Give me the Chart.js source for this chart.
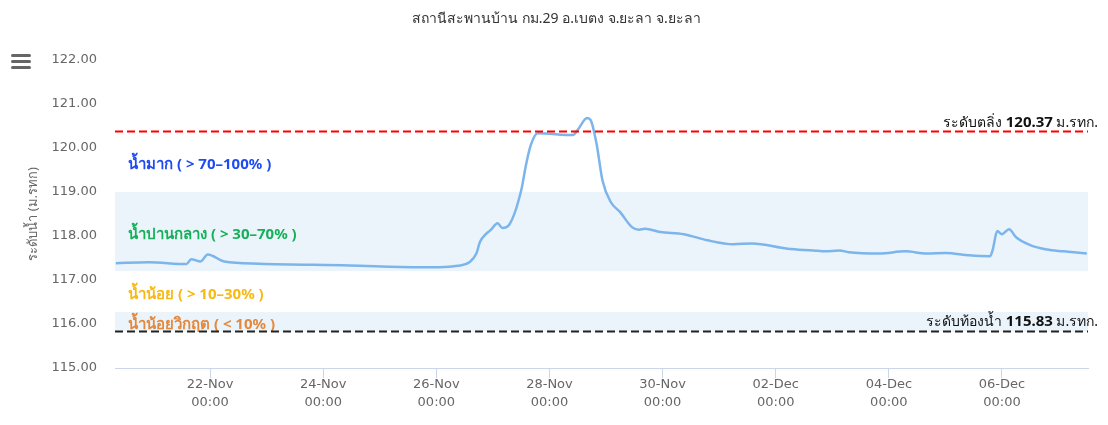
<!DOCTYPE html>
<html lang="th">
<head>
<meta charset="UTF-8">
<title>ระดับน้ำ สถานีสะพานบ้าน</title>
<style>
  body { margin: 0; background: #fff; overflow: hidden; }
  .wrap { position: relative; width: 1108px; height: 425px; }
  #chart { position: absolute; left: 0; top: 0; }
  .menu { position: absolute; left: 11px; top: 54px; width: 20px; }
  .menu span { display: block; height: 3px; margin-bottom: 3px; background: #666; border-radius: 2px; }
</style>
</head>
<body>
<div class="wrap">
  <canvas id="chart" width="1108" height="425"></canvas>
  <div class="menu"><span></span><span></span><span></span></div>
</div>

<script src="https://cdn.jsdelivr.net/npm/chart.js"></script>
<script>
// ข้อมูลระดับน้ำ (ม.รทก.)
const times = [
  '2024-11-20 08:00', '2024-11-20 22:00', '2024-11-21 14:00', '2024-11-21 16:00', '2024-11-21 20:00',
  '2024-11-21 23:00', '2024-11-22 06:00', '2024-11-22 21:00', '2024-11-24 11:00', '2024-11-25 17:00',
  '2024-11-26 01:00', '2024-11-26 09:00', '2024-11-26 14:00', '2024-11-26 17:00', '2024-11-26 18:30',
  '2024-11-26 21:00', '2024-11-26 23:00', '2024-11-27 02:00', '2024-11-27 04:00', '2024-11-27 07:00',
  '2024-11-27 12:00', '2024-11-27 14:00', '2024-11-27 16:00', '2024-11-27 19:00', '2024-11-28 10:00',
  '2024-11-28 12:00', '2024-11-28 16:00', '2024-11-28 17:30', '2024-11-28 20:00', '2024-11-28 22:30',
  '2024-11-29 02:00', '2024-11-29 06:00', '2024-11-29 11:00', '2024-11-29 14:00', '2024-11-29 16:30',
  '2024-11-29 23:00', '2024-11-30 09:00', '2024-11-30 19:00', '2024-12-01 06:00', '2024-12-01 14:00',
  '2024-12-02 05:00', '2024-12-02 16:00', '2024-12-02 21:00', '2024-12-03 03:00', '2024-12-03 07:00',
  '2024-12-03 20:00', '2024-12-04 07:00', '2024-12-04 16:00', '2024-12-05 00:00', '2024-12-05 10:00',
  '2024-12-05 19:00', '2024-12-05 20:00', '2024-12-05 22:00', '2024-12-06 00:00', '2024-12-06 03:00',
  '2024-12-06 06:00', '2024-12-06 12:00', '2024-12-06 19:00', '2024-12-07 02:00', '2024-12-07 12:00'
];
const levels = [
  117.38, 117.40, 117.36, 117.47, 117.42,
  117.58, 117.42, 117.37, 117.33, 117.29,
  117.29, 117.32, 117.40, 117.60, 117.86,
  118.04, 118.13, 118.29, 118.18, 118.26,
  119.03, 119.60, 120.05, 120.33, 120.29,
  120.41, 120.68, 120.63, 120.09, 119.26,
  118.77, 118.54, 118.20, 118.14, 118.16,
  118.09, 118.04, 117.90, 117.81, 117.83,
  117.71, 117.67, 117.65, 117.67, 117.63,
  117.60, 117.65, 117.60, 117.61, 117.56,
  117.54, 117.67, 118.11, 118.04, 118.15,
  117.97, 117.79, 117.69, 117.65, 117.60
];

// ช่วงแกน x และวันที่ของ tick
const xStart = '2024-11-20 07:40';
const xEnd = '2024-12-07 12:30';
const tickDates = ['2024-11-22 00:00', '2024-11-24 00:00', '2024-11-26 00:00', '2024-11-28 00:00',
                   '2024-11-30 00:00', '2024-12-02 00:00', '2024-12-04 00:00', '2024-12-06 00:00'];
const monthNames = ['Jan', 'Feb', 'Mar', 'Apr', 'May', 'Jun', 'Jul', 'Aug', 'Sep', 'Oct', 'Nov', 'Dec'];

// โซนระดับน้ำ
const zoneNames = ['น้ำมาก ( > 70–100% )', 'น้ำปานกลาง ( > 30–70% )', 'น้ำน้อย ( > 10–30% )', 'น้ำน้อยวิกฤต ( < 10% )'];
const zoneFrom = [119.00, 117.20, 116.27, 115.83];
const zoneTo = [120.37, 119.00, 117.20, 116.27];
const zoneShaded = [false, true, false, true];
const zoneColors = ['#1f4cf2', '#16b05a', '#f8b912', '#e3883c'];

// เส้นอ้างอิง
const refNames = ['ระดับตลิ่ง', 'ระดับท้องน้ำ'];
const refValues = [120.37, 115.83];
const refColors = ['#ff0000', '#222222'];

const FONT = "Tahoma, 'Noto Sans', 'DejaVu Sans', sans-serif";
const AXIS_FONT = "'DejaVu Sans', Verdana, sans-serif";

function toMs(s) {
  const [d, t] = s.split(' ');
  const [y, m, day] = d.split('-').map(Number);
  const [hh, mm] = t.split(':').map(Number);
  return Date.UTC(y, m - 1, day, hh, mm);
}

const points = times.map((t, i) => ({ x: toMs(t), y: levels[i] }));

const zonePlugin = {
  id: 'zones',
  beforeDatasetsDraw(chart) {
    const { ctx, chartArea: a, scales: { y } } = chart;
    ctx.save();
    ctx.fillStyle = '#ebf4fb';
    zoneFrom.forEach((f, i) => {
      if (!zoneShaded[i]) return;
      const top = y.getPixelForValue(zoneTo[i]);
      const bot = y.getPixelForValue(f);
      ctx.fillRect(a.left, top, a.right - a.left, bot - top);
    });
    ctx.restore();
  },
  afterDatasetsDraw(chart) {
    const { ctx, chartArea: a, scales: { y } } = chart;
    ctx.save();
    // ชื่อโซน
    ctx.font = 'bold 15px ' + FONT;
    ctx.textBaseline = 'middle';
    ctx.textAlign = 'left';
    zoneNames.forEach((name, i) => {
      const mid = y.getPixelForValue((zoneFrom[i] + zoneTo[i]) / 2);
      ctx.fillStyle = zoneColors[i];
      ctx.fillText(name, a.left + 13, mid + 3);
    });
    // เส้นประ
    refValues.forEach((v, i) => {
      const py = y.getPixelForValue(v);
      ctx.strokeStyle = refColors[i];
      ctx.lineWidth = 2;
      ctx.setLineDash([8, 4]);
      ctx.beginPath();
      ctx.moveTo(a.left, py);
      ctx.lineTo(a.right, py);
      ctx.stroke();
      ctx.setLineDash([]);

      // ป้ายกำกับด้านขวา
      const parts = [
        { text: refNames[i] + ' ', font: '14px ' + FONT },
        { text: v.toFixed(2), font: 'bold 15px ' + FONT },
        { text: ' ม.รทก.', font: '14px ' + FONT }
      ];
      let x = 1098;
      ctx.textBaseline = 'alphabetic';
      ctx.textAlign = 'right';
      ctx.fillStyle = '#111';
      for (let k = parts.length - 1; k >= 0; k--) {
        ctx.font = parts[k].font;
        ctx.fillText(parts[k].text, x, py - 5);
        x -= ctx.measureText(parts[k].text).width;
      }
    });
    ctx.restore();
  }
};

new Chart(document.getElementById('chart'), {
  type: 'line',
  data: {
    datasets: [{
      label: 'ระดับน้ำ',
      data: points,
      borderColor: '#7cb5ec',
      borderWidth: 2.5,
      pointRadius: 0,
      cubicInterpolationMode: 'monotone',
      fill: false
    }]
  },
  options: {
    responsive: false,
    animation: false,
    layout: { padding: { left: 25, right: 20, top: 0, bottom: 0 } },
    plugins: {
      legend: { display: false },
      tooltip: { enabled: false },
      title: {
        display: true,
        text: 'สถานีสะพานบ้าน กม.29 อ.เบตง จ.ยะลา จ.ยะลา',
        color: '#333',
        font: { family: FONT, size: 14, weight: 'normal' },
        padding: { top: 11, bottom: 32 }
      }
    },
    scales: {
      x: {
        type: 'linear',
        min: toMs(xStart),
        max: toMs(xEnd),
        afterBuildTicks(scale) {
          scale.ticks = tickDates.map(d => ({ value: toMs(d) }));
        },
        afterFit(scale) { scale.height = 57; },
        border: { color: '#ccd6eb', width: 1 },
        grid: { display: true, drawOnChartArea: false, drawTicks: true, tickLength: 10, color: '#ccd6eb' },
        ticks: {
          autoSkip: false,
          maxRotation: 0,
          color: '#666',
          padding: -2,
          font: { family: AXIS_FONT, size: 13, lineHeight: 1.35 },
          callback(v) {
            const d = new Date(v);
            const dd = String(d.getUTCDate()).padStart(2, '0');
            const hh = String(d.getUTCHours()).padStart(2, '0');
            const mm = String(d.getUTCMinutes()).padStart(2, '0');
            return [dd + '-' + monthNames[d.getUTCMonth()], hh + ':' + mm];
          }
        }
      },
      y: {
        min: 115,
        max: 122,
        afterFit(scale) { scale.width = 90; },
        border: { display: false },
        grid: { display: false },
        ticks: {
          stepSize: 1,
          color: '#666',
          padding: 10,
          font: { family: AXIS_FONT, size: 13 },
          callback: v => v.toFixed(2)
        },
        title: {
          display: true,
          text: 'ระดับน้ำ (ม.รทก)',
          color: '#666',
          font: { family: FONT, size: 13 },
          padding: { top: 0, bottom: 0 }
        }
      }
    }
  },
  plugins: [zonePlugin]
});
</script>
</body>
</html>
